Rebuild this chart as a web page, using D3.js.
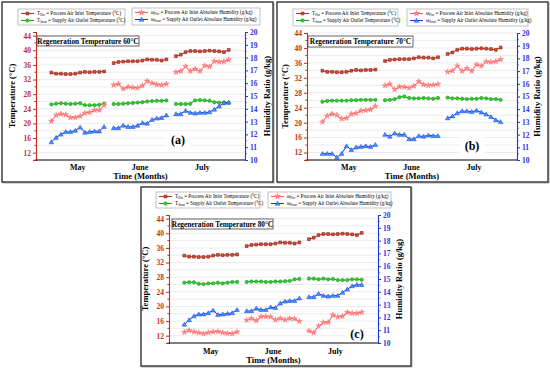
<!DOCTYPE html>
<html><head><meta charset="utf-8">
<script src="https://cdn.jsdelivr.net/npm/d3@7"></script>
<style>body{margin:0;background:#fff}svg{display:block}text{font-family:"Liberation Serif","Times New Roman",serif}</style>
</head><body>
<svg id="chart" width="550" height="371"></svg>
<script>
const months = ["May", "June", "July"];
const leftTicks = [12, 16, 20, 24, 28, 32, 36, 40, 44];
const rightTicks = [10, 11, 12, 13, 14, 15, 16, 17, 18, 19, 20];
const regenTemps = ["60", "70", "80"];
const panelLabels = ["(a)", "(b)", "(c)"];

// Process air inlet temperature (same in all panels)
const tPin = [33.9,33.6,33.6,33.5,33.5,33.6,33.9,34.1,34.0,34.1,34.1,34.2,
              36.5,36.8,36.9,37.0,37.0,37.0,37.2,37.5,37.4,37.4,37.2,37.5,
              38.4,38.8,39.5,39.8,39.8,39.7,39.8,39.9,39.8,39.7,39.5,40.1];
// Panel (a) 60°C
const tSoutA = [25.2,25.4,25.5,25.4,25.3,25.4,25.5,25.0,25.0,25.0,25.1,25.4,
                25.3,25.3,25.4,25.5,25.6,25.7,25.8,26.0,26.1,26.2,26.2,26.3,
                25.3,25.3,25.3,25.4,26.3,26.4,26.3,26.2,25.8,25.7,25.7,25.6];
const wPinA = [13.03,13.49,13.6,13.54,13.31,13.31,13.43,13.66,13.72,13.89,13.9,14.29,
               15.86,15.94,15.57,15.71,15.66,15.63,15.8,16.17,16.0,15.89,15.86,15.94,
               16.86,16.94,17.31,16.94,17.11,16.94,17.37,17.29,17.71,17.66,17.69,17.83];
const wSoutA = [11.4,11.75,12.0,12.2,12.2,12.3,12.55,12.15,12.2,12.25,12.25,12.6,
                12.5,12.5,12.7,12.6,12.6,12.7,12.9,12.85,13.15,13.25,13.3,13.5,
                13.6,13.6,13.85,13.7,13.65,13.7,13.7,13.75,13.95,14.2,14.45,14.5];
// Panel (b) 70°C
const tSoutB = [25.6,25.8,25.9,25.9,25.9,25.9,26.0,26.0,26.1,26.1,26.1,26.1,
                26.0,26.1,26.3,26.8,27.0,26.6,26.5,26.5,26.6,26.5,26.4,26.6,
                26.7,26.5,26.5,26.4,26.3,26.4,26.4,26.6,26.5,26.3,26.3,26.1];
const wPinB = [13.0,13.47,13.62,13.53,13.24,13.29,13.62,13.68,13.88,13.91,13.97,14.24,
               15.86,15.98,15.55,15.77,15.75,15.68,15.83,16.18,15.94,15.88,15.91,15.97,
               16.94,17.03,17.41,17.0,17.21,17.0,17.5,17.41,17.74,17.71,17.76,17.91];
const wSoutB = [10.5,10.5,10.5,10.2,10.5,11.1,10.8,11.0,11.05,11.1,11.05,11.2,
                12.0,11.85,12.1,12.0,12.0,11.65,11.65,11.9,11.85,11.95,11.9,11.9,
                13.3,13.45,13.7,13.85,13.85,13.8,13.9,13.75,13.6,13.4,13.15,13.0];
// Panel (c) 80°C
const tSoutC = [26.5,26.6,26.6,26.2,26.1,26.3,26.3,26.5,26.3,26.5,26.7,26.7,
                26.7,26.8,26.8,26.8,26.7,26.7,26.8,26.8,26.9,27.0,27.4,27.5,
                27.6,27.6,27.4,27.6,27.4,27.5,27.2,27.2,27.2,27.4,27.4,27.3];
const wPinC = [10.84,10.98,10.87,10.81,10.73,10.81,10.87,10.9,10.81,10.75,10.73,10.87,
               11.78,11.92,11.75,12.06,12.06,12.04,11.81,11.92,11.81,11.92,11.89,11.69,
               10.95,10.81,11.32,11.61,11.61,12.18,12.03,12.09,12.4,12.32,12.32,12.4];
const wSoutC = [11.45,11.8,12.1,12.25,12.25,12.35,12.55,12.2,12.25,12.3,12.35,12.6,
                12.5,12.5,12.7,12.6,12.6,12.8,12.75,13.1,13.25,13.3,13.3,13.5,
                13.6,13.6,13.85,13.7,13.65,13.7,13.7,13.95,14.2,14.45,14.55,14.55];

const RED = "#c0301e", BLUE = "#1f35e0", GREEN = "#1f9e1f", PINK = "#ff5a5a";
const xIdx = d3.range(36).map(i => Math.floor(i / 12) * 13 + (i % 12));

const panels = [
  {frame:[2,2,271,180], plot:{l:36,r:245,t:32,b:160}, yDom:[10,45], leg1:[18,9,107,16], leg2:[132,8,128,17], title:[37,36,102,10], lab:[178,140], tempX:12, humX:267, monthY:167, timeY:176,
   tSout:tSoutA, wPin:wPinA, wSout:wSoutA},
  {frame:[277,2,271,180], plot:{l:307,r:517,t:33,b:160}, yDom:[10,44], leg1:[293,9,105,17], leg2:[407,9,121,17], title:[308,36,105,11], lab:[472,146], tempX:285, humX:537, monthY:167, timeY:176,
   tSout:tSoutB, wPin:wPinB, wSout:wSoutB},
  {frame:[141,187,270,179], plot:{l:169,r:378,t:215,b:343}, yDom:[10,45], leg1:[156,192,104,16], leg2:[268,192,123,16], title:[172,219,101,10], lab:[357,334], tempX:145, humX:399, monthY:351, timeY:360,
   tSout:tSoutC, wPin:wPinC, wSout:wSoutC}
];

const svg = d3.select("#chart");

function sub(textSel, main, subscript, rest, fs) {
  textSel.append("tspan").text(main);
  textSel.append("tspan").attr("font-size", fs * 0.7).attr("dy", fs * 0.25).text(subscript);
  textSel.append("tspan").attr("dy", -fs * 0.25).text(rest);
}

function marker(g, type, x, y) {
  if (type === "sq") g.append("path").attr("d", d3.symbol(d3.symbolSquare, 8)()).attr("transform", `translate(${x},${y})`).attr("fill", "#d0553a").attr("stroke", "#8a1a10").attr("stroke-width", 0.6);
  if (type === "ci") g.append("circle").attr("cx", x).attr("cy", y).attr("r", 1.7).attr("fill", "#2ad02a").attr("stroke", "#138a13").attr("stroke-width", 0.5);
  if (type === "st") g.append("path").attr("d", d3.symbol(d3.symbolStar, 10)()).attr("transform", `translate(${x},${y})`).attr("fill", "#ff8a8a").attr("stroke", PINK).attr("stroke-width", 0.4);
  if (type === "tr") g.append("path").attr("d", d3.symbol(d3.symbolTriangle, 9)()).attr("transform", `translate(${x},${y + 0.4})`).attr("fill", "#2f9cff").attr("stroke", BLUE).attr("stroke-width", 0.5);
}

panels.forEach((p, pi) => {
  const g = svg.append("g");
  const [fx, fy, fw, fh] = p.frame;
  g.append("rect").attr("x", fx + 1).attr("y", fy + 1).attr("width", fw).attr("height", fh).attr("fill", "none").attr("stroke", "#aaa").attr("stroke-width", 1);
  g.append("rect").attr("x", fx).attr("y", fy).attr("width", fw).attr("height", fh).attr("fill", "#fff").attr("stroke", "#333").attr("stroke-width", 1.4);

  const P = p.plot;
  const x = d3.scaleLinear().domain([-3.2, 40.4]).range([P.l, P.r]);
  const yL = d3.scaleLinear().domain(p.yDom).range([P.b, P.t]);
  const yR = d3.scaleLinear().domain([10, 20]).range([P.b, P.t]);

  // gridlines
  g.append("g").selectAll("line").data(d3.range(12, p.yDom[1] + 0.1, 2)).join("line")
    .attr("x1", P.l).attr("x2", P.r).attr("y1", d => yL(d)).attr("y2", d => yL(d))
    .attr("stroke", "#e4e4e4").attr("stroke-width", 0.7);

  // panel label background
  g.append("rect").attr("x", p.lab[0] - 12).attr("y", p.lab[1] - 9).attr("width", 24).attr("height", 17).attr("fill", "#fff");
  g.append("text").attr("x", p.lab[0]).attr("y", p.lab[1] + 4).attr("text-anchor", "middle").attr("font-size", 12).attr("font-weight", "bold").text(panelLabels[pi]);

  // axes
  const axL = d3.axisLeft(yL).tickValues(leftTicks).tickSize(3).tickPadding(2);
  const gL = g.append("g").attr("transform", `translate(${P.l},0)`).call(axL);
  gL.select(".domain").attr("stroke", RED).attr("stroke-width", 1.1);
  gL.selectAll(".tick line").attr("stroke", RED);
  gL.selectAll("text").attr("fill", RED).attr("font-size", 7.5).attr("font-weight", "bold").attr("font-family", "Liberation Serif");
  g.append("g").selectAll("line").data(d3.range(10, p.yDom[1] + 0.1, 2).filter(v => leftTicks.indexOf(v) < 0)).join("line")
    .attr("x1", P.l - 1.6).attr("x2", P.l).attr("y1", d => yL(d)).attr("y2", d => yL(d)).attr("stroke", RED);

  const axR = d3.axisRight(yR).tickValues(rightTicks).tickSize(3).tickPadding(2);
  const gR = g.append("g").attr("transform", `translate(${P.r},0)`).call(axR);
  gR.select(".domain").attr("stroke", BLUE).attr("stroke-width", 1.1);
  gR.selectAll(".tick line").attr("stroke", BLUE);
  gR.selectAll("text").attr("fill", BLUE).attr("font-size", 7.5).attr("font-weight", "bold").attr("font-family", "Liberation Serif");
  g.append("g").selectAll("line").data(d3.range(10.5, 20, 1)).join("line")
    .attr("x1", P.r).attr("x2", P.r + 1.6).attr("y1", d => yR(d)).attr("y2", d => yR(d)).attr("stroke", BLUE);

  g.append("line").attr("x1", P.l).attr("x2", P.r).attr("y1", P.b).attr("y2", P.b).attr("stroke", "#000").attr("stroke-width", 1);

  // month labels
  months.forEach((m, mi) => {
    g.append("text").attr("x", x(mi * 13 + 5.5)).attr("y", p.monthY + 3).attr("text-anchor", "middle")
      .attr("font-size", 8).attr("font-weight", "bold").text(m);
  });
  g.append("text").attr("x", (P.l + P.r) / 2).attr("y", p.timeY + 3).attr("text-anchor", "middle")
    .attr("font-size", 8.5).attr("font-weight", "bold").text("Time (Months)");
  const cy = (P.t + P.b) / 2;
  g.append("text").attr("transform", `translate(${p.tempX + 3},${cy}) rotate(-90)`).attr("text-anchor", "middle")
    .attr("font-size", 8.5).attr("font-weight", "bold").text("Temperature (°C)");
  g.append("text").attr("transform", `translate(${p.humX + 3},${cy}) rotate(-90)`).attr("text-anchor", "middle")
    .attr("font-size", 8.5).attr("font-weight", "bold").text("Humidity Ratio (g/kg)");

  // series
  const series = [
    {vals: tPin, y: yL, color: "#b8321f", m: "sq"},
    {vals: p.tSout, y: yL, color: GREEN, m: "ci"},
    {vals: p.wPin, y: yR, color: PINK, m: "st"},
    {vals: p.wSout, y: yR, color: BLUE, m: "tr"}
  ];
  series.forEach(s => {
    const line = d3.line().x(i => x(xIdx[i])).y(i => s.y(s.vals[i]));
    [0, 1, 2].forEach(mi => {
      const idx = d3.range(mi * 12, mi * 12 + 12);
      g.append("path").attr("d", line(idx)).attr("fill", "none").attr("stroke", s.color).attr("stroke-width", 1);
    });
    s.vals.forEach((v, i) => marker(g, s.m, x(xIdx[i]), s.y(v)));
  });

  // title box
  const [tx, ty, tw, th] = p.title;
  g.append("rect").attr("x", tx).attr("y", ty).attr("width", tw).attr("height", th).attr("fill", "#fff").attr("stroke", "#555").attr("stroke-width", 0.9);
  g.append("text").attr("x", tx + tw / 2).attr("y", ty + th / 2 + 2.6).attr("text-anchor", "middle")
    .attr("font-size", 7.3).attr("font-weight", "bold").text(`Regeneration Temperature ${regenTemps[pi]}°C`);

  // legends
  const fs = 5.1;
  const legs = [
    {box: p.leg1, items: [["sq", "#b8321f", "T", "Pin", " = Process Air Inlet Temperature (°C)"], ["ci", GREEN, "T", "Sout", " = Supply Air Outlet Temperature (°C)"]]},
    {box: p.leg2, items: [["st", PINK, "ω", "Pin", " = Process Air Inlet Absolute Humidity (g/kg)"], ["tr", BLUE, "ω", "Sout", " = Supply Air Outlet Absolute Humidity (g/kg)"]]}
  ];
  legs.forEach(L => {
    const [lx, ly, lw, lh] = L.box;
    g.append("rect").attr("x", lx).attr("y", ly).attr("width", lw).attr("height", lh).attr("fill", "#fff").attr("stroke", "#999").attr("stroke-width", 0.6);
    L.items.forEach((it, k) => {
      const yy = ly + 4.5 + k * 7;
      g.append("line").attr("x1", lx + 3).attr("x2", lx + 16).attr("y1", yy).attr("y2", yy).attr("stroke", it[1]).attr("stroke-width", 1);
      marker(g, it[0], lx + 9.5, yy);
      const t = g.append("text").attr("x", lx + 19).attr("y", yy + 1.7).attr("font-size", fs);
      sub(t, it[2], it[3], it[4], fs);
    });
  });
});
</script>
</body></html>
